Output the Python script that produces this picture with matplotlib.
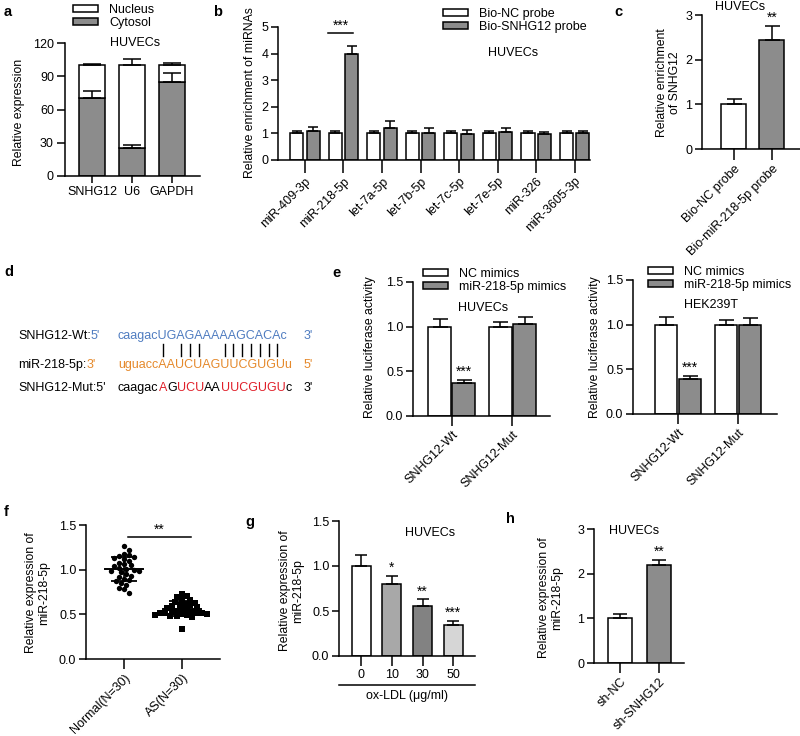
import matplotlib
matplotlib.use('Agg')
import matplotlib.pyplot as plt
import numpy as np
from matplotlib.patches import Patch
from matplotlib.lines import Line2D
from matplotlib.font_manager import FontProperties

plt.rcParams['font.family'] = ['Liberation Sans', 'DejaVu Sans']
plt.rcParams['font.size'] = 8
plt.rcParams['axes.linewidth'] = 1.1

# ---- data ----
a_genes = ['SNHG12', 'U6', 'GAPDH']
a_cyto = [70, 25, 85]
a_cyto_err = [7, 3, 8]
a_total = [100, 100, 100]
a_total_err = [1, 6, 2]

b_mirnas = ['miR-409-3p', 'miR-218-5p', 'let-7a-5p', 'let-7b-5p', 'let-7c-5p',
            'let-7e-5p', 'miR-326', 'miR-3605-3p']
b_nc = [1.0, 1.0, 1.0, 1.0, 1.0, 1.0, 1.0, 1.0]
b_nc_err = [0.1, 0.09, 0.08, 0.08, 0.08, 0.08, 0.08, 0.08]
b_probe = [1.1, 4.0, 1.2, 1.02, 0.97, 1.05, 0.97, 1.0]
b_probe_err = [0.13, 0.3, 0.25, 0.2, 0.15, 0.15, 0.1, 0.1]

c_groups = ['Bio-NC probe', 'Bio-miR-218-5p probe']
c_vals = [1.0, 2.45]
c_err = [0.12, 0.3]

d_wt = 'caagacUGAGAAAAAGCACAc'
d_mir = 'uguaccAAUCUAGUUCGUGUu'
d_mut_parts = [('caagac', 'k'), ('A', 'r'), ('G', 'k'), ('UCU', 'r'), ('AA', 'k'),
               ('UUCGUGU', 'r'), ('c', 'k')]

e_groups = ['SNHG12-Wt', 'SNHG12-Mut']
e_huvec_nc = [1.0, 1.0]
e_huvec_nc_err = [0.09, 0.05]
e_huvec_mim = [0.37, 1.03]
e_huvec_mim_err = [0.03, 0.08]
e_hek_nc = [1.0, 1.0]
e_hek_nc_err = [0.09, 0.05]
e_hek_mim = [0.39, 1.0]
e_hek_mim_err = [0.03, 0.08]

f_groups = ['Normal(N=30)', 'AS(N=30)']
f_normal = [1.26, 1.22, 1.18, 1.16, 1.15, 1.14, 1.13, 1.12, 1.10, 1.08,
            1.06, 1.05, 1.04, 1.02, 1.01, 1.00, 0.99, 0.98, 0.97, 0.95,
            0.93, 0.92, 0.90, 0.88, 0.87, 0.85, 0.83, 0.80, 0.78, 0.74]
f_as = [0.73, 0.71, 0.69, 0.67, 0.66, 0.64, 0.63, 0.62, 0.61, 0.60,
        0.59, 0.58, 0.57, 0.56, 0.55, 0.54, 0.53, 0.53, 0.52, 0.52,
        0.51, 0.51, 0.50, 0.50, 0.49, 0.49, 0.48, 0.48, 0.47, 0.34]

g_doses = ['0', '10', '30', '50']
g_vals = [1.0, 0.8, 0.56, 0.34]
g_err = [0.12, 0.09, 0.07, 0.05]
g_stars = ['', '*', '**', '***']
g_colors = ['white', '#a8a8a8', '#828282', '#d6d6d6']

h_groups = ['sh-NC', 'sh-SNHG12']
h_vals = [1.0, 2.2]
h_err = [0.1, 0.1]

GREY = '#8c8c8c'
TICK_FS = 9
W, H = 800, 736
fig = plt.figure(figsize=(W / 100, H / 100), dpi=100)


def add_ax(left, top, right, bottom):
    return fig.add_axes([left / W, 1 - bottom / H, (right - left) / W, (bottom - top) / H])


def style(ax, xlen=5, ylen=4):
    ax.spines[['top', 'right']].set_visible(False)
    ax.tick_params(axis='x', length=xlen, width=1.1, labelsize=TICK_FS, pad=2)
    ax.tick_params(axis='y', length=ylen, width=1.1, labelsize=TICK_FS, pad=2)


def bars(ax, x, vals, errs, color, width, cap, bottom=0):
    ax.bar(x, vals, width, bottom=bottom, color=color, edgecolor='black', linewidth=1.1, zorder=2)
    top = np.asarray(vals) + bottom
    ax.errorbar(x, top, yerr=[np.zeros(len(top)), errs], fmt='none', ecolor='black',
                elinewidth=1.1, capsize=cap, capthick=1.1, zorder=3)


def ylab(ax, text, xr, yc):
    ax.set_ylabel(text, fontsize=8.8, linespacing=1.1)
    ax.yaxis.set_label_coords(xr / W, 1 - yc / H, transform=fig.transFigure)


def legend_at(ax, labels, x, y, colors=('white', GREY)):
    handles = [Patch(facecolor=c, edgecolor='black', linewidth=1.1) for c in colors]
    ax.legend(handles, labels, loc='upper left', bbox_to_anchor=(x / W, 1 - y / H),
              bbox_transform=fig.transFigure, frameon=False, fontsize=9,
              handlelength=2.0, handleheight=0.45, handletextpad=0.9,
              labelspacing=0.1, borderaxespad=0, borderpad=0)


def ftext(x, y, s, **kw):
    return fig.text(x / W, 1 - y / H, s, **kw)


def letter(x, y, s):
    ftext(x, y, s, fontsize=10.5, fontweight='bold', ha='left', va='center')


# ---- a ----
ax = add_ax(65, 43, 200, 176)
x = np.arange(len(a_genes))
nuc = np.array(a_total) - np.array(a_cyto)
bars(ax, x, a_cyto, a_cyto_err, GREY, 0.65, 6.8)
bars(ax, x, nuc, a_total_err, 'white', 0.65, 6.8, bottom=np.array(a_cyto))
ax.set_ylim(0, 120)
ax.set_yticks([0, 30, 60, 90, 120])
ax.set_xlim(-0.675, 2.7)
ax.set_xticks(x)
ax.set_xticklabels(a_genes)
style(ax, xlen=5, ylen=6)
ylab(ax, 'Relative expression', 25, 112)
legend_at(ax, ['Nucleus', 'Cytosol'], 73, 4)
ftext(110, 43, 'HUVECs', fontsize=9, va='center')
letter(4, 12, 'a')

# ---- b ----
ax = add_ax(278, 27, 590, 160)
x = np.arange(len(b_mirnas))
bars(ax, x - 0.21, b_nc, b_nc_err, 'white', 0.34, 3.6)
bars(ax, x + 0.21, b_probe, b_probe_err, GREY, 0.34, 3.6)
ax.set_ylim(0, 5)
ax.set_xlim(-0.7, 7.4)
ax.set_xticks(x)
ax.set_xticklabels(b_mirnas, rotation=45, ha='right', rotation_mode='anchor')
style(ax, xlen=9, ylen=5)
ax.plot([0.6, 1.25], [4.77, 4.77], color='black', lw=1.1)
ax.text(0.925, 4.77, '***', ha='center', va='bottom', fontsize=10)
ylab(ax, 'Relative enrichment of miRNAs', 256, 93)
legend_at(ax, ['Bio-NC probe', 'Bio-SNHG12 probe'], 443, 8)
ftext(513, 53, 'HUVECs', fontsize=9, ha='center', va='center')
letter(213, 12, 'b')

# ---- c ----
ax = add_ax(702, 15, 800, 149)
x = np.arange(len(c_groups))
bars(ax, x[:1], c_vals[:1], c_err[:1], 'white', 0.66, 5.4)
bars(ax, x[1:], c_vals[1:], c_err[1:], GREY, 0.66, 5.4)
ax.set_ylim(0, 3)
ax.set_yticks([0, 1, 2, 3])
ax.set_xlim(-0.84, 1.74)
ax.set_xticks(x)
ax.set_xticklabels(c_groups, rotation=45, ha='right', rotation_mode='anchor')
style(ax, xlen=8, ylen=5)
ax.text(1, c_vals[1] + c_err[1] + 0.03, '**', ha='center', va='bottom', fontsize=10)
ylab(ax, 'Relative enrichment\nof SNHG12', 681, 83)
ftext(740, 7, 'HUVECs', fontsize=9, ha='center', va='center')
letter(614, 12, 'c')

# ---- d ----
fs = 9.0
fp = FontProperties(family=['Liberation Sans', 'DejaVu Sans'], size=fs)
renderer = fig.canvas.get_renderer()
BLUE, ORANGE, RED = '#4f7cc0', '#e5892b', '#e0202a'
seq_x = 118
end_x = 304
y_wt, y_mir, y_mut = 336, 365, 388


def width_px(s):
    w, _, _ = renderer.get_text_width_height_descent(s, fp, ismath=False)
    return w


def seg_line(parts, x0, y):
    xx = x0
    for s, c in parts:
        ftext(xx, y, s, fontsize=fs, color=c, va='center', ha='left')
        xx += width_px(s)


seg_line([('SNHG12-Wt:', 'black'), ("5'", BLUE)], 18, y_wt)
seg_line([(d_wt, BLUE)], seq_x, y_wt)
ftext(end_x, y_wt, "3'", fontsize=fs, color=BLUE, va='center')
seg_line([('miR-218-5p:', 'black'), ("3'", ORANGE)], 18, y_mir)
seg_line([(d_mir, ORANGE)], seq_x, y_mir)
ftext(end_x, y_mir, "5'", fontsize=fs, color=ORANGE, va='center')
seg_line([("SNHG12-Mut:5'", 'black')], 18, y_mut)
cmap = {'k': 'black', 'r': RED}
seg_line([(s, cmap[c]) for s, c in d_mut_parts], seq_x, y_mut)
ftext(end_x, y_mut, "3'", fontsize=fs, color='black', va='center')
for i, (a, b) in enumerate(zip(d_wt.upper(), d_mir.upper())):
    if {a, b} in ({'A', 'U'}, {'G', 'C'}) and d_wt[i].isupper():
        xc = seq_x + (width_px(d_wt[:i]) + width_px(d_wt[:i + 1])) / 2
        fig.add_artist(Line2D([xc / W, xc / W], [1 - 344 / H, 1 - 356 / H],
                              transform=fig.transFigure, color='black', lw=1.0))
letter(4, 272, 'd')

# ---- e ----
e_panels = [
    dict(box=(413, 282, 550, 416), xlim=(-0.64, 1.62), nc=e_huvec_nc, nce=e_huvec_nc_err,
         mm=e_huvec_mim, mme=e_huvec_mim_err, cell='HUVECs', leg=(423, 268),
         cellpos=(458, 308), ylx=376),
    dict(box=(633, 280, 777, 414), xlim=(-0.75, 1.65), nc=e_hek_nc, nce=e_hek_nc_err,
         mm=e_hek_mim, mme=e_hek_mim_err, cell='HEK239T', leg=(648, 266),
         cellpos=(684, 305), ylx=601),
]
for p in e_panels:
    ax = add_ax(*p['box'])
    x = np.arange(len(e_groups))
    bars(ax, x - 0.2, p['nc'], p['nce'], 'white', 0.38, 5.4)
    bars(ax, x + 0.2, p['mm'], p['mme'], GREY, 0.38, 5.4)
    ax.set_ylim(0, 1.5)
    ax.set_yticks([0, 0.5, 1.0, 1.5])
    ax.set_yticklabels(['0.0', '0.5', '1.0', '1.5'])
    ax.set_xlim(*p['xlim'])
    ax.set_xticks(x)
    ax.set_xticklabels(e_groups, rotation=45, ha='right', rotation_mode='anchor')
    style(ax, xlen=7, ylen=5)
    ax.text(0.2, p['mm'][0] + p['mme'][0] + 0.02, '***', ha='center', va='bottom', fontsize=10)
    ylab(ax, 'Relative luciferase activity', p['ylx'], 347)
    legend_at(ax, ['NC mimics', 'miR-218-5p mimics'], *p['leg'])
    ftext(*p['cellpos'], p['cell'], fontsize=9, va='center')
letter(332, 273, 'e')

# ---- f ----
ax = add_ax(86, 525, 220, 659)
dx_px, dy_px, diam = 58.0, 89.3, 4.8


def swarm(vals):
    placed, offs = [], []
    for v in vals:
        y = v * dy_px
        for k in range(0, 40):
            c = (k + 1) // 2 * 2.5 * (1 if k % 2 else -1) if k else 0.0
            if all((c - px) ** 2 + (y - py) ** 2 >= diam ** 2 for px, py in placed):
                break
        placed.append((c, y))
        offs.append(c)
    return np.array(offs) / dx_px


for i, (vals, mk) in enumerate([(f_normal, 'o'), (f_as, 's')]):
    vals = np.array(vals)
    ax.scatter(i + swarm(vals), vals, marker=mk, s=15 if mk == 'o' else 13,
               color='black', linewidths=0, zorder=3)
    m, sd = vals.mean(), vals.std(ddof=1)
    ax.plot([i - 0.33, i + 0.33], [m, m], color='black', lw=1.4, zorder=4)
    ax.errorbar([i], [m], yerr=[[sd], [sd]], fmt='none', ecolor='black',
                elinewidth=1.2, capsize=9.4, capthick=1.3, zorder=4)
ax.set_ylim(0, 1.5)
ax.set_yticks([0, 0.5, 1.0, 1.5])
ax.set_yticklabels(['0.0', '0.5', '1.0', '1.5'])
ax.set_xlim(-0.655, 1.655)
ax.set_xticks([0, 1])
ax.set_xticklabels(f_groups, rotation=45, ha='right', rotation_mode='anchor')
style(ax, xlen=7, ylen=5)
ax.plot([0.07, 1.155], [1.366, 1.366], color='black', lw=1.1)
ax.text(0.61, 1.37, '**', ha='center', va='bottom', fontsize=10)
ylab(ax, 'Relative expression of\nmiR-218-5p', 50, 593)
letter(4, 512, 'f')

# ---- g ----
ax = add_ax(339, 521, 475, 656)
x = np.arange(len(g_doses))
for xi, v, e, c in zip(x, g_vals, g_err, g_colors):
    bars(ax, [xi], [v], [e], c, 0.62, 4.3)
for xi, v, e, s in zip(x, g_vals, g_err, g_stars):
    if s:
        ax.text(xi, v + e + 0.01, s, ha='center', va='bottom', fontsize=10)
ax.set_ylim(0, 1.5)
ax.set_yticks([0, 0.5, 1.0, 1.5])
ax.set_yticklabels(['0.0', '0.5', '1.0', '1.5'])
ax.set_xlim(-0.72, 3.71)
ax.set_xticks(x)
ax.set_xticklabels(g_doses)
style(ax, xlen=7, ylen=5)
ax.plot([0.0, 1.0], [-0.215, -0.215], transform=ax.transAxes, color='black',
        lw=1.1, clip_on=False)
ax.text(0.5, -0.30, 'ox-LDL (\u03bcg/ml)', transform=ax.transAxes, ha='center',
        va='center', fontsize=9)
ax.text(2.25, 1.37, 'HUVECs', ha='center', va='center', fontsize=9)
ylab(ax, 'Relative expression of\nmiR-218-5p', 304, 591)
letter(245, 522, 'g')

# ---- h ----
ax = add_ax(594, 529, 684, 663)
x = np.arange(len(h_groups))
bars(ax, x[:1], h_vals[:1], h_err[:1], 'white', 0.6, 5)
bars(ax, x[1:], h_vals[1:], h_err[1:], GREY, 0.6, 5)
ax.text(1, h_vals[1] + h_err[1] + 0.04, '**', ha='center', va='bottom', fontsize=10)
ax.set_ylim(0, 3)
ax.set_yticks([0, 1, 2, 3])
ax.set_xlim(-0.67, 1.64)
ax.set_xticks(x)
ax.set_xticklabels(h_groups, rotation=45, ha='right', rotation_mode='anchor')
style(ax, xlen=7, ylen=5)
ax.text(0.35, 2.95, 'HUVECs', ha='center', va='center', fontsize=9)
ylab(ax, 'Relative expression of\nmiR-218-5p', 563, 598)
letter(506, 519, 'h')

fig.savefig('out.png', dpi=100)
